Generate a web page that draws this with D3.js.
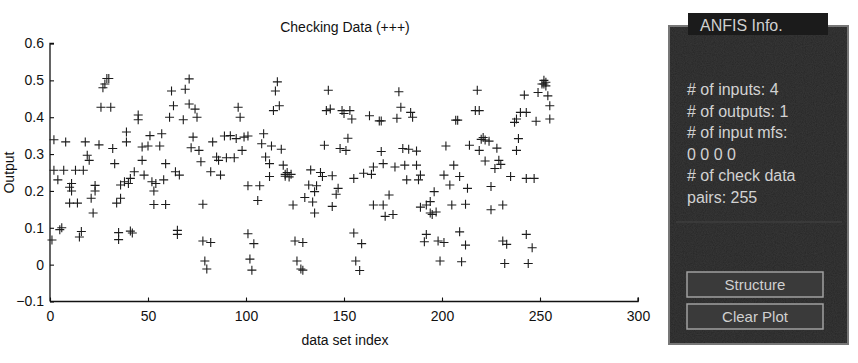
<!DOCTYPE html>
<html>
<head>
<meta charset="utf-8">
<script src="https://cdn.jsdelivr.net/npm/d3@7"></script>
<style>
  body { margin: 0; background: #fff; }
  svg { display: block; font-family: "Liberation Sans", Arial, sans-serif; }
</style>
</head>
<body>
<div id="chart-target"></div>
<script>
// CHECKING DATA (+++)

var checkIndex = [
  1, 2, 2, 4, 5, 6, 7, 8, 10, 10, 11, 11, 13, 14, 15, 16, 17, 18, 19, 20, 21, 22, 23, 23, 25, 26, 27, 28, 29, 30,
  31, 32, 33, 34, 35, 35, 36, 36, 38, 39, 39,
  40, 41, 41, 42, 43, 45, 45, 47, 47, 48, 50, 51, 52, 53, 53, 54, 56, 57, 58, 59, 59, 61, 62, 63, 64, 65, 65, 66,
  68, 69, 71, 71, 72, 73, 74, 75, 76, 77, 78, 78, 79, 80, 82, 82, 83,
  85, 86, 87, 89, 90, 92, 94, 95, 96, 97, 98, 99, 101, 101, 101, 102, 103, 104, 106, 107, 108, 109, 110, 112, 112,
  113, 114, 115, 116, 117, 118, 119, 120, 120, 121, 122, 123, 124, 125, 126,
  128, 129, 129, 130, 132, 133, 134, 135, 135, 136, 138, 139, 140, 141, 142, 143, 144, 144, 146, 147, 148, 149, 150,
  151, 152, 153, 154, 155, 155, 156, 158, 159, 160, 163, 164, 165, 165, 168, 169, 169, 170, 170, 171,
  173, 175, 176, 177, 178, 179, 180, 181, 182, 183, 184, 185, 187, 187, 188, 189, 189, 191, 192, 192, 194, 194, 195,
  196, 197, 198, 199, 201, 201, 202, 204, 205, 206, 207, 208, 209, 209, 210, 212, 212, 213, 214,
  217, 218, 219, 219, 220, 221, 222, 222, 224, 225, 225, 227, 228, 229, 230, 231, 231, 232, 233, 235, 237, 238, 238,
  239, 240, 242, 243, 243, 243, 244, 246, 247, 248, 249, 251, 252, 252, 253, 253, 254, 255, 255
];

var checkOutput = [
  0.067, 0.339, 0.256, 0.23, 0.095, 0.1, 0.256, 0.333, 0.21, 0.167, 0.22, 0.2, 0.256, 0.167, 0.075, 0.09, 0.256, 0.333, 0.297, 0.283, 0.18, 0.14, 0.2, 0.215, 0.325, 0.427, 0.48, 0.49, 0.505, 0.505,
  0.427, 0.315, 0.274, 0.167, 0.068, 0.087, 0.18, 0.216, 0.225, 0.36, 0.333,
  0.22, 0.234, 0.091, 0.086, 0.252, 0.393, 0.406, 0.319, 0.283, 0.243, 0.322, 0.35, 0.225, 0.163, 0.2, 0.22, 0.322, 0.355, 0.23, 0.163, 0.274, 0.4, 0.471, 0.431, 0.252, 0.093, 0.082, 0.243,
  0.393, 0.476, 0.504, 0.436, 0.317, 0.346, 0.422, 0.4, 0.31, 0.279, 0.164, 0.064, 0.01, -0.012, 0.06, 0.252, 0.333,
  0.292, 0.283, 0.243, 0.349, 0.29, 0.35, 0.29, 0.342, 0.427, 0.4, 0.31, 0.346, 0.349, 0.214, 0.084, 0.015, -0.015, 0.057, 0.174, 0.214, 0.328, 0.355, 0.292, 0.274, 0.239,
  0.322, 0.418, 0.471, 0.496, 0.431, 0.313, 0.27, 0.245, 0.24, 0.25, 0.238, 0.245, 0.162, 0.064, 0.01,
  -0.012, -0.015, 0.06, 0.182, 0.216, 0.257, 0.17, 0.14, 0.198, 0.214, 0.25, 0.239, 0.324, 0.418, 0.473, 0.422, 0.241, 0.158, 0.191, 0.207, 0.315, 0.418, 0.41,
  0.31, 0.343, 0.418, 0.395, 0.234, 0.086, 0.01, -0.016, 0.057, 0.248, 0.404, 0.245, 0.162, 0.265, 0.39, 0.39, 0.307, 0.274, 0.162, 0.131,
  0.189, 0.136, 0.265, 0.397, 0.469, 0.427, 0.315, 0.27, 0.23, 0.313, 0.413, 0.4, 0.308, 0.27, 0.23, 0.243, 0.156, 0.062, 0.082, 0.162, 0.171, 0.14, 0.136,
  0.198, 0.143, 0.064, 0.01, 0.06, 0.243, 0.322, 0.216, 0.162, 0.27, 0.392, 0.392, 0.239, 0.089, 0.008, 0.053, 0.164, 0.207, 0.324,
  0.418, 0.473, 0.418, 0.31, 0.34, 0.345, 0.338, 0.281, 0.335, 0.212, 0.149, 0.261, 0.316, 0.283, 0.272, 0.162, 0.064, 0.003, 0.055, 0.239, 0.386, 0.395, 0.31,
  0.342, 0.413, 0.46, 0.413, 0.234, 0.082, 0.003, 0.046, 0.234, 0.389, 0.467, 0.49, 0.5, 0.49, 0.495, 0.485, 0.458, 0.431, 0.395
];

var xTicks = [0, 50, 100, 150, 200, 250, 300];
var yTicks = [-0.1, 0, 0.1, 0.2, 0.3, 0.4, 0.5, 0.6];

var chartTitle = 'Checking Data (+++)';
var xLabel = 'data set index';
var yLabel = 'Output';

// info panel texts
var panelTitle = 'ANFIS Info.';
var infoLines = ['# of inputs: 4', '# of outputs: 1', '# of input mfs:', '0 0 0 0', '# of check data', 'pairs: 255'];
var buttonLabels = ['Structure', 'Clear Plot'];

var width = 858, height = 363;
var plot = { left: 50, right: 638, top: 43.5, bottom: 301.5 };

var svg = d3.select('#chart-target').append('svg')
    .attr('width', width)
    .attr('height', height);

var x = d3.scaleLinear().domain([0, 300]).range([plot.left, plot.right]);
var y = d3.scaleLinear().domain([-0.1, 0.6]).range([plot.bottom, plot.top]);

// axes - ticks point into the plot like the matlab figure
var xAxis = svg.append('g')
    .attr('transform', `translate(0,${plot.bottom})`)
    .call(d3.axisBottom(x).tickValues(xTicks).tickSize(-4).tickPadding(10).tickFormat(d3.format('d')));

var yAxis = svg.append('g')
    .attr('transform', `translate(${plot.left},0)`)
    .call(d3.axisLeft(y).tickValues(yTicks).tickSize(-4).tickPadding(6).tickFormat((d) => { return d3.format('.1f')(d).replace('0.0', '0') }));

[xAxis, yAxis].forEach((g) => {
  g.select('.domain').attr('stroke', '#111').attr('stroke-width', 1.3);
  g.selectAll('.tick line').attr('stroke', '#111').attr('stroke-width', 1.1);
  g.selectAll('.tick text').attr('fill', '#111').style('font-size', '14px');
});
// only left + bottom lines, with the small caps at the far ends
xAxis.select('.domain').attr('d', `M${plot.left},0H${plot.right}V-4`);
yAxis.select('.domain').attr('d', `M4,${plot.top}H0V${plot.bottom}`);

// the '+' markers
svg.append('g')
    .selectAll('path')
    .data(checkOutput.map((d, i) => { return { idx: checkIndex[i], out: d } }))
  .enter().append('path')
    .attr('d', 'M-4.5,0H4.5M0,-4.5V4.5')
    .attr('transform', (d) => { return `translate(${x(d.idx)},${y(d.out)})` })
    .attr('stroke', '#1c1c1c')
    .attr('stroke-width', 1.1)
    .attr('fill', 'none');

// titles
svg.append('text')
    .attr('x', 345).attr('y', 32)
    .attr('text-anchor', 'middle')
    .style('font-size', '14px').attr('fill', '#111')
    .text(chartTitle);

svg.append('text')
    .attr('x', (plot.left + plot.right) / 2 + 1).attr('y', 345)
    .attr('text-anchor', 'middle')
    .style('font-size', '14px').attr('fill', '#111')
    .text(xLabel);

svg.append('text')
    .attr('transform', `translate(14,${(plot.top + plot.bottom) / 2}) rotate(-90)`)
    .attr('text-anchor', 'middle')
    .style('font-size', '14px').attr('fill', '#111')
    .text(yLabel);

// ANFIS INFO PANEL (dark photocopied look)

var defs = svg.append('defs');
var grain = defs.append('filter').attr('id', 'grain').attr('x', 0).attr('y', 0).attr('width', 1).attr('height', 1);
grain.append('feTurbulence').attr('type', 'fractalNoise').attr('baseFrequency', 0.9).attr('numOctaves', 2).attr('result', 'noise');
grain.append('feColorMatrix').attr('in', 'noise').attr('type', 'matrix')
    .attr('values', '0 0 0 0 0.6  0 0 0 0 0.6  0 0 0 0 0.6  0 0 0 0.12 0');
grain.append('feComposite').attr('in2', 'SourceGraphic').attr('operator', 'in');

var panel = svg.append('g');

panel.append('rect')
    .attr('x', 669).attr('y', 26).attr('width', 179).attr('height', 318)
    .attr('fill', '#262626').attr('stroke', '#777').attr('stroke-width', 2);
panel.append('rect')
    .attr('x', 670).attr('y', 27).attr('width', 177).attr('height', 316)
    .attr('fill', '#262626').attr('filter', 'url(#grain)');

// title tab
panel.append('rect')
    .attr('x', 688).attr('y', 13).attr('width', 140).attr('height', 22)
    .attr('fill', '#1b1b1b');
panel.append('text')
    .attr('x', 700).attr('y', 31)
    .style('font-size', '16px').attr('fill', '#d0d0d0')
    .text(panelTitle);

panel.selectAll('text.info')
    .data(infoLines)
  .enter().append('text')
    .attr('class', 'info')
    .attr('x', 687)
    .attr('y', (d, i) => { return 95 + i * 21.6 })
    .style('font-size', '16px')
    .attr('fill', '#d2d2d2')
    .text((d) => { return d });

// faint separator
panel.append('line')
    .attr('x1', 676).attr('x2', 842).attr('y1', 222).attr('y2', 222)
    .attr('stroke', '#444').attr('stroke-width', 1);

var buttons = panel.selectAll('g.button')
    .data(buttonLabels)
  .enter().append('g')
    .attr('class', 'button')
    .attr('transform', (d, i) => { return `translate(687,${272 + i * 32})` });

buttons.append('rect')
    .attr('width', 136).attr('height', 25)
    .attr('fill', '#3a3a3a').attr('stroke', '#a0a0a0').attr('stroke-width', 1.5);
buttons.append('text')
    .attr('x', 68).attr('y', 18)
    .attr('text-anchor', 'middle')
    .style('font-size', '15px')
    .attr('fill', '#d0d0d0')
    .text((d) => { return d });
</script>
</body>
</html>
